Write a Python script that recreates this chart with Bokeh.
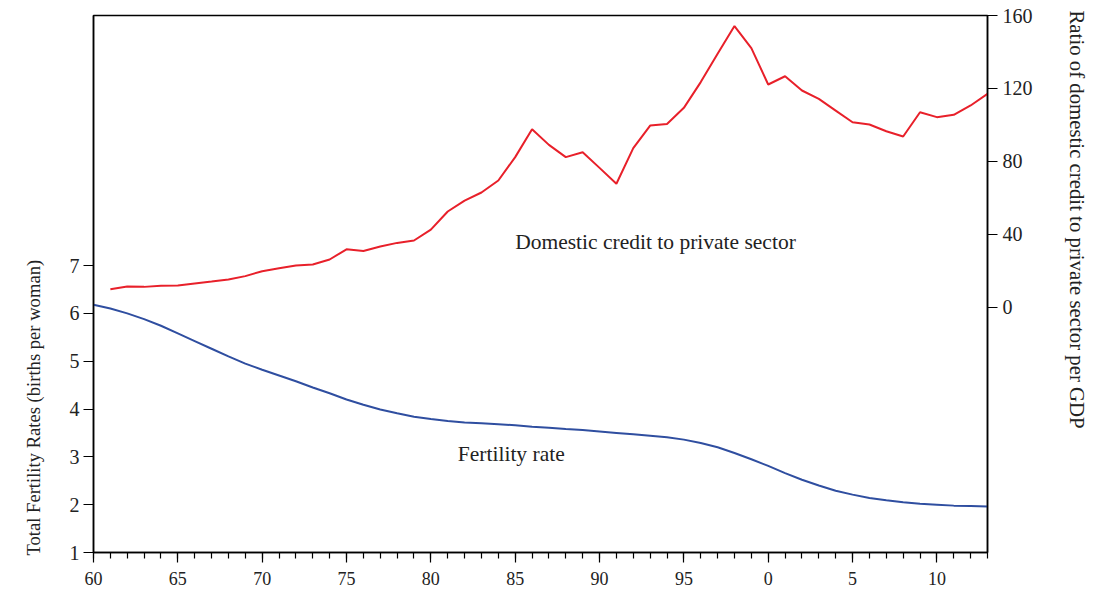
import math
from bokeh.plotting import figure
from bokeh.models import Range1d, LinearAxis, FixedTicker, Label, Title
from bokeh.embed import file_html
from bokeh.resources import INLINE

# ---- data ----
years = list(range(1960, 2014))
fertility = [6.18, 6.10, 6.00, 5.88, 5.74, 5.58, 5.42, 5.26, 5.10, 4.95,
             4.82, 4.70, 4.58, 4.45, 4.33, 4.20, 4.09, 3.99, 3.91, 3.84,
             3.79, 3.75, 3.72, 3.70, 3.68, 3.66, 3.63, 3.61, 3.58, 3.56,
             3.53, 3.50, 3.47, 3.44, 3.41, 3.36, 3.29, 3.20, 3.08, 2.95,
             2.81, 2.66, 2.52, 2.40, 2.29, 2.21, 2.14, 2.09, 2.05, 2.02,
             2.00, 1.98, 1.97, 1.96]

credit_years = list(range(1961, 2014))
credit = [10.0, 11.5, 11.3, 11.9, 12.1, 13.2, 14.2, 15.3, 17.2,
          19.9, 21.5, 23.0, 23.6, 26.3, 31.9, 31.0, 33.4, 35.4, 36.7,
          42.7, 52.6, 58.6, 63.0, 69.6, 82.4, 97.7, 89.1, 82.4, 85.1,
          76.5, 67.8, 87.3, 99.7, 100.6, 109.4, 123.5, 139.0, 154.2, 142.1,
          122.2, 126.7, 118.9, 114.3, 107.9, 101.5, 100.3, 96.6, 93.7, 107.0,
          104.3, 105.6, 110.7, 117.1]

x_ticks = [1960, 1965, 1970, 1975, 1980, 1985, 1990, 1995, 2000, 2005, 2010]
x_tick_labels = ["60", "65", "70", "75", "80", "85", "90", "95", "0", "5", "10"]
left_ticks = [1, 2, 3, 4, 5, 6, 7]
right_ticks = [0, 40, 80, 120, 160]

FONT = "Liberation Serif"

p = figure(width=1116, height=597, output_backend="svg", toolbar_location=None,
           x_range=Range1d(1960, 2013), y_range=Range1d(1, 12.227),
           min_border_left=93, min_border_right=126, min_border_top=15,
           min_border_bottom=45)
p.extra_y_ranges = {"credit": Range1d(-134.25, 160)}
p.grid.visible = False
p.outline_line_color = "black"
p.outline_line_width = 1.5
p.background_fill_color = "white"
p.border_fill_color = "white"

# x axis
xa = p.xaxis[0]
xa.ticker = FixedTicker(ticks=x_ticks, minor_ticks=years)
xa.major_label_overrides = {t: l for t, l in zip(x_ticks, x_tick_labels)}

# left axis
ya = p.yaxis[0]
ya.ticker = FixedTicker(ticks=left_ticks)

# right axis
ra = LinearAxis(y_range_name="credit", ticker=FixedTicker(ticks=right_ticks))
p.add_layout(ra, "right")

for ax in [xa, ya, ra]:
    ax.axis_line_color = "black"
    ax.axis_line_width = 1.5
    ax.major_tick_line_color = "black"
    ax.major_tick_line_width = 1.2
    ax.major_tick_out = 10
    ax.major_tick_in = 0
    ax.major_label_text_font = FONT
    ax.major_label_text_color = "#222222"
xa.major_label_text_font_size = "18px"
ya.major_label_text_font_size = "20px"
ra.major_label_text_font_size = "20px"
xa.minor_tick_line_color = "black"
xa.minor_tick_line_width = 1.2
xa.minor_tick_out = 6
xa.minor_tick_in = 0
xa.major_label_standoff = 9
ya.minor_tick_line_color = None
ra.minor_tick_line_color = None
ya.major_label_standoff = 4
ra.major_label_standoff = 5

# lines
p.line(years, fertility, line_color="#2f4ea0", line_width=2)
p.line(credit_years, credit, y_range_name="credit", line_color="#e8202a", line_width=2)

# in-plot labels
p.add_layout(Label(x=1985.0, y=7.50, text="Domestic credit to private sector",
                   text_font=FONT, text_font_size="21.5px", text_color="#222222",
                   text_align="left", text_baseline="middle"))
p.add_layout(Label(x=1981.6, y=3.05, text="Fertility rate",
                   text_font=FONT, text_font_size="21.5px", text_color="#222222",
                   text_align="left", text_baseline="middle"))

# axis titles
left_title = Title(text="Total Fertility Rates (births per woman)", align="left",
                   vertical_align="top",
                   text_font=FONT, text_font_size="18.6px", text_font_style="normal",
                   text_color="#222222", standoff=41, offset=-3)
p.add_layout(left_title, "left")
right_title = Title(text="Ratio of domestic credit to private sector per GDP", align="left",
                    vertical_align="top",
                    text_font=FONT, text_font_size="20.8px", text_font_style="normal",
                    text_color="#222222", standoff=56, offset=-5)
p.add_layout(right_title, "right")

open("out.html", "w").write(file_html(p, INLINE))
